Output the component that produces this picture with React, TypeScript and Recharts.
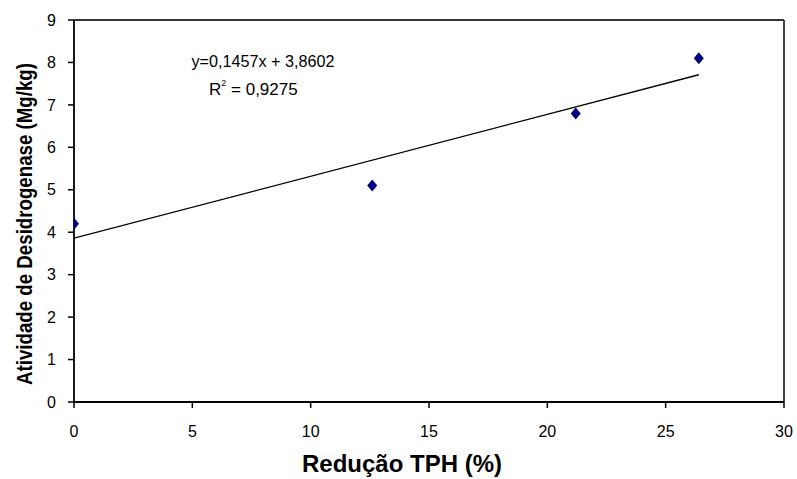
import { ScatterChart, Scatter, XAxis, YAxis, ReferenceLine } from "recharts"

// pontos medidos
const reducaoTPH = [0, 12.6, 21.2, 26.4]
const atividade = [4.2, 5.1, 6.8, 8.1]

// linha de tendência (extremos)
const trendX = [0, 26.4]
const trendY = [3.86, 7.71]

const xTicks = [0, 5, 10, 15, 20, 25, 30]
const yTicks = [0, 1, 2, 3, 4, 5, 6, 7, 8, 9]

const equation = "y=0,1457x + 3,8602"
const r2Value = "= 0,9275"
const xTitle = "Redução TPH (%)"
const yTitle = "Atividade de Desidrogenase (Mg/kg)"

const points = reducaoTPH.map((x, i) => ({ x, y: atividade[i] }))
const trend = trendX.map((x, i) => ({ x, y: trendY[i] }))

const narrow = '"Liberation Sans Narrow", "Arial Narrow", "Liberation Sans", Arial, sans-serif'
const regular = '"Liberation Sans", Arial, sans-serif'

function Diamond(props: any) {
  const { cx, cy } = props
  if (cx == null || cy == null) return <g />
  return (
    <polygon
      points={`${cx},${cy - 6} ${cx + 5},${cy} ${cx},${cy + 6} ${cx - 5},${cy}`}
      fill="#000080"
    />
  )
}

export default function App() {
  return (
    <div style={{ position: "absolute", left: 0, top: 0, width: 797, height: 479, background: "#fff" }}>
      <ScatterChart width={797} height={479} margin={{ top: 20, right: 13, bottom: 0, left: 0 }}>
        <XAxis
          type="number"
          dataKey="x"
          domain={[0, 30]}
          ticks={xTicks}
          height={77}
          tickSize={6}
          tickMargin={18}
          axisLine={{ stroke: "#000", strokeWidth: 1.8 }}
          tickLine={{ stroke: "#000", strokeWidth: 1.5 }}
          tick={{ fill: "#000", fontSize: 16, fontFamily: regular }}
          allowDataOverflow
        />
        <YAxis
          type="number"
          dataKey="y"
          domain={[0, 9]}
          ticks={yTicks}
          width={74}
          tickSize={6}
          tickMargin={12}
          axisLine={{ stroke: "#000", strokeWidth: 1.8 }}
          tickLine={{ stroke: "#000", strokeWidth: 1.5 }}
          tick={{ fill: "#000", fontSize: 16, fontFamily: regular }}
          allowDataOverflow
        />
        <ReferenceLine y={9} stroke="#333" strokeWidth={1.8} />
        <ReferenceLine x={30} stroke="#333" strokeWidth={1.8} />
        <Scatter
          data={trend}
          line={{ stroke: "#000", strokeWidth: 1.3 }}
          shape={() => <g />}
          isAnimationActive={false}
        />
        <Scatter data={points} shape={Diamond} isAnimationActive={false} />
      </ScatterChart>
      <svg
        width={797}
        height={479}
        style={{ position: "absolute", left: 0, top: 0, pointerEvents: "none" }}
      >
        <text x={263} y={67} textAnchor="middle" fontSize={17} fontFamily={narrow} fill="#000"
          textLength={143} lengthAdjust="spacingAndGlyphs">
          {equation}
        </text>
        <text x={209} y={95} fontSize={17} fontFamily={narrow} fill="#000">
          R
          <tspan fontSize={9} dy={-9}>2</tspan>
          <tspan dy={9}>{" " + r2Value}</tspan>
        </text>
        <text x={402} y={472} textAnchor="middle" fontSize={23} fontWeight="bold" fontFamily={narrow}
          fill="#000" textLength={200} lengthAdjust="spacingAndGlyphs">
          {xTitle}
        </text>
        <text x={32} y={224} transform="rotate(-90 32 224)" textAnchor="middle" fontSize={22}
          fontWeight="bold" fontFamily={narrow} fill="#000" textLength={322} lengthAdjust="spacingAndGlyphs">
          {yTitle}
        </text>
      </svg>
    </div>
  )
}
